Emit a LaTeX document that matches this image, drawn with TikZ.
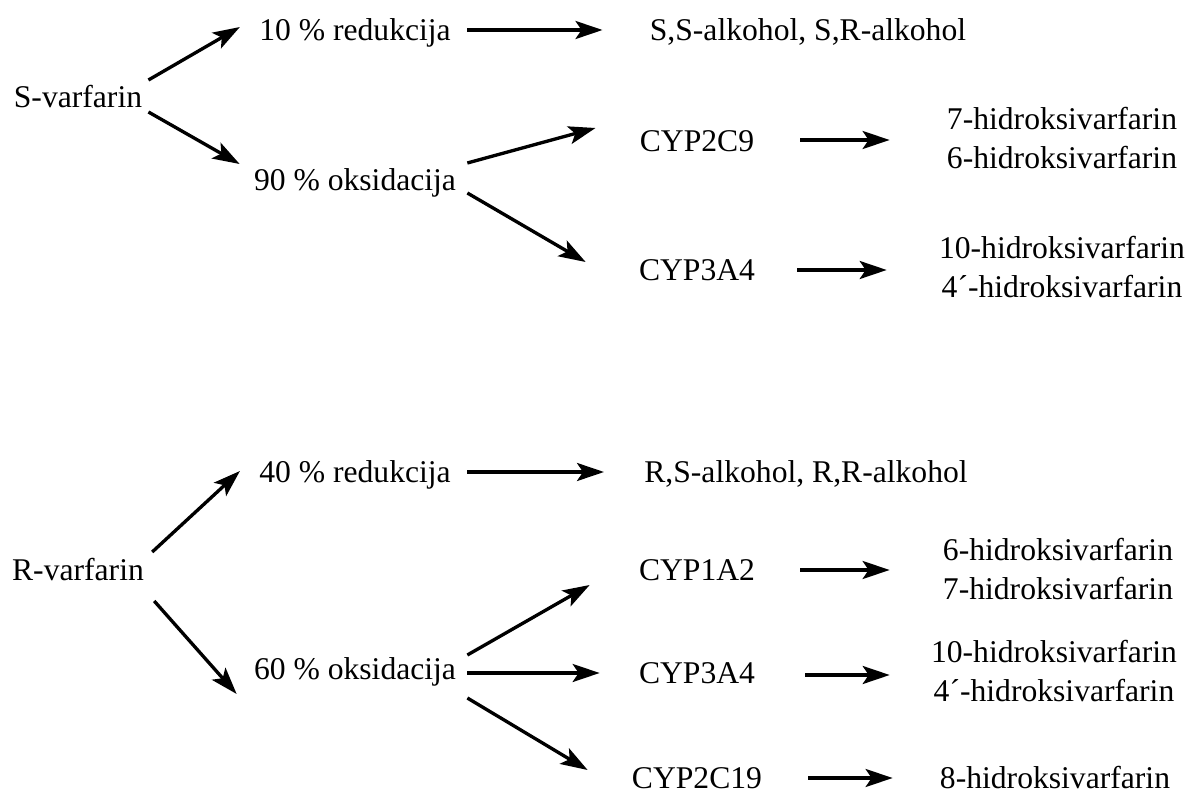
\documentclass[tikz,border=0pt]{standalone}
\usepackage{fontspec}
\setmainfont{Liberation Serif}
\usetikzlibrary{arrows.meta}

\begin{document}
\begin{tikzpicture}[
  x=0.02cm, y=-0.02cm,
  font=\fontsize{18}{22.3}\selectfont,
  lbl/.style={inner sep=0pt,text height=11.9pt,text depth=0pt},
  prod/.style={inner sep=0pt,align=center},
  arr/.style={line width=1.9pt,-{Stealth[length=0.54cm,width=0.36cm,inset=0.12cm]}}]
\useasboundingbox (0,0) rectangle (1192,793);
% S-varfarin branch
\node[lbl]  (sv)    at (78,97)    {S-varfarin};
\node[lbl]  (r10)   at (355,30)   {10 \% redukcija};
\node[lbl]  (o90)   at (355,180)  {90 \% oksidacija};
\node[lbl]  (p1)    at (808,30)   {S,S-alkohol, S,R-alkohol};
\node[lbl]  (c2c9)  at (697,141)  {CYP2C9};
\node[lbl]  (c3a4)  at (697,270)  {CYP3A4};
\node[prod] (h1)    at (1062,138) {7-hidroksivarfarin\\6-hidroksivarfarin};
\node[prod] (h2)    at (1062,267) {10-hidroksivarfarin\\4´-hidroksivarfarin};
% R-varfarin branch
\node[lbl]  (rv)    at (78,570)   {R-varfarin};
\node[lbl]  (r40)   at (355,472)  {40 \% redukcija};
\node[lbl]  (o60)   at (355,669)  {60 \% oksidacija};
\node[lbl]  (p2)    at (806,472)  {R,S-alkohol, R,R-alkohol};
\node[lbl]  (c1a2)  at (697,570)  {CYP1A2};
\node[lbl]  (c3a4b) at (697,673)  {CYP3A4};
\node[lbl]  (c2c19) at (697,778)  {CYP2C19};
\node[prod] (h3)    at (1058,569) {6-hidroksivarfarin\\7-hidroksivarfarin};
\node[prod] (h4)    at (1054,671) {10-hidroksivarfarin\\4´-hidroksivarfarin};
\node[lbl]  (h5)    at (1055,778) {8-hidroksivarfarin};
% S arrows
\draw[arr] ([shift={(6,-17)}]sv.east) -- ([shift={(-19,-3)}]r10.west);
\draw[arr] ([shift={(6,15)}]sv.east) -- ([shift={(-14,-16)}]o90.west);
\draw[arr] ([shift={(16,0)}]r10.east) -- ([shift={(-47,0)}]p1.west);
\draw[arr] ([shift={(11,-17)}]o90.east) -- ([shift={(-44,-13)}]c2c9.west);
\draw[arr] ([shift={(11,13)}]o90.east) -- ([shift={(-53,-8)}]c3a4.west);
\draw[arr] ([shift={(46,-1)}]c2c9.east) -- ([shift={(-57,2)}]h1.west);
\draw[arr] ([shift={(42,0)}]c3a4.east) -- ([shift={(-52,3)}]h2.west);
% R arrows
\draw[arr] ([shift={(8,-18)}]rv.east) -- ([shift={(-19,-1)}]r40.west);
\draw[arr] ([shift={(10,31)}]rv.east) -- ([shift={(-17,25)}]o60.west);
\draw[arr] ([shift={(16,0)}]r40.east) -- ([shift={(-40,0)}]p2.west);
\draw[arr] ([shift={(11,-14)}]o60.east) -- ([shift={(-49,15)}]c1a2.west);
\draw[arr] ([shift={(11,4)}]o60.east) -- ([shift={(-39,0)}]c3a4b.west);
\draw[arr] ([shift={(11,29)}]o60.east) -- ([shift={(-44,-8)}]c2c19.west);
\draw[arr] ([shift={(45,0)}]c1a2.east) -- ([shift={(-53,1)}]h3.west);
\draw[arr] ([shift={(50,2)}]c3a4b.east) -- ([shift={(-41,4)}]h4.west);
\draw[arr] ([shift={(46,0)}]c2c19.east) -- ([shift={(-47,0)}]h5.west);
\end{tikzpicture}
\end{document}
